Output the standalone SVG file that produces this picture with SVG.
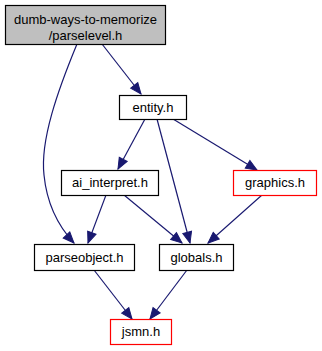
<svg xmlns="http://www.w3.org/2000/svg" width="322" height="351" viewBox="0 0 322 351">
  <style>
    .box { fill: #ffffff; stroke: #000000; stroke-width: 1.2; }
    .root { fill: #bfbfbf; stroke: #000000; stroke-width: 1.2; }
    .ext { fill: #ffffff; stroke: #ff0000; stroke-width: 1.2; }
    .lbl { font-family: "Liberation Sans", Arial, sans-serif; font-size: 13px; fill: #000000; text-anchor: middle; }
    .edge { fill: none; stroke: #191970; stroke-width: 1.2; marker-end: url(#arrow); }
  </style>
  <defs>
    <marker id="arrow" markerUnits="userSpaceOnUse" markerWidth="12" markerHeight="9" refX="11" refY="4.5" orient="auto" overflow="visible">
      <path d="M0,0 L11,4.5 L0,9 z" fill="#191970" stroke="#191970" stroke-width="1"/>
    </marker>
  </defs>
  <rect width="322" height="351" fill="#ffffff"/>

  <g id="connectors">
    <path class="edge" d="M102,44 L141,94"/>
    <path class="edge" d="M77,44 C58,90 40,140 44,175 C47,205 60,228 74,243"/>
    <path class="edge" d="M145,119 L118,169"/>
    <path class="edge" d="M157,119 L190,243"/>
    <path class="edge" d="M173,119 L257,170"/>
    <path class="edge" d="M106,195 L88,243"/>
    <path class="edge" d="M124,195 L182,243"/>
    <path class="edge" d="M262,195 L208,243"/>
    <path class="edge" d="M94,270 L132,319"/>
    <path class="edge" d="M187,270 L150,319"/>
  </g>

  <g id="node-parselevel">
    <rect class="root" x="5.5" y="5.5" width="160" height="39"/>
    <text class="lbl" x="85.5" y="24">dumb-ways-to-memorize</text>
    <text class="lbl" x="85.5" y="40">/parselevel.h</text>
  </g>
  <g id="node-entity">
    <rect class="box" x="119.5" y="95.5" width="67" height="24"/>
    <text class="lbl" x="153" y="111.5">entity.h</text>
  </g>
  <g id="node-ai_interpret">
    <rect class="box" x="61.5" y="170.5" width="97" height="25"/>
    <text class="lbl" x="110" y="187">ai_interpret.h</text>
  </g>
  <g id="node-graphics">
    <rect class="ext" x="233.5" y="170.5" width="83" height="25"/>
    <text class="lbl" x="275" y="187">graphics.h</text>
  </g>
  <g id="node-parseobject">
    <rect class="box" x="34.5" y="244.5" width="100" height="26"/>
    <text class="lbl" x="84.5" y="261.5">parseobject.h</text>
  </g>
  <g id="node-globals">
    <rect class="box" x="159.5" y="244.5" width="74" height="26"/>
    <text class="lbl" x="196.5" y="261.5">globals.h</text>
  </g>
  <g id="node-jsmn">
    <rect class="ext" x="110.5" y="319.5" width="61" height="25"/>
    <text class="lbl" x="141" y="336">jsmn.h</text>
  </g>
</svg>
